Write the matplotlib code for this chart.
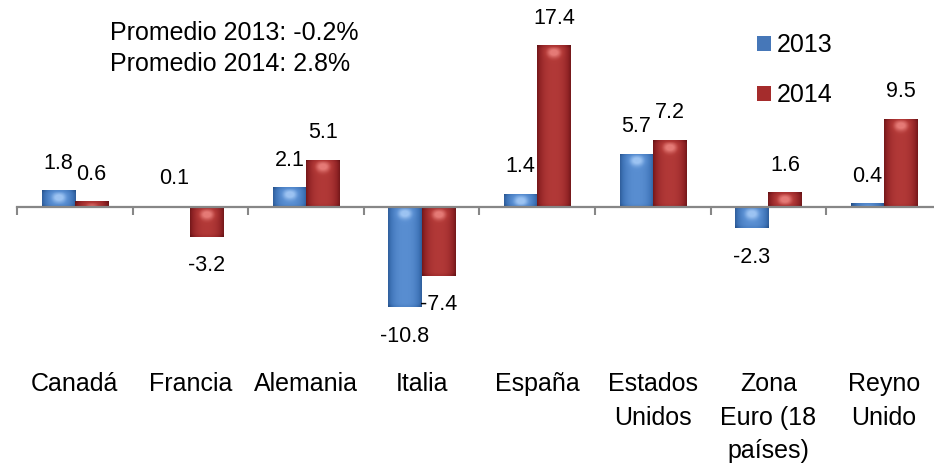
import matplotlib
matplotlib.use('Agg')
import matplotlib.pyplot as plt
import numpy as np
from matplotlib.patches import Patch
from matplotlib.colors import LinearSegmentedColormap

# ---- data ----
categories = ['Canadá', 'Francia', 'Alemania', 'Italia', 'España',
              'Estados\nUnidos', 'Zona\nEuro (18\npaíses)', 'Reyno\nUnido']
values_2013 = [1.8, 0.1, 2.1, -10.8, 1.4, 5.7, -2.3, 0.4]
values_2014 = [0.6, -3.2, 5.1, -7.4, 17.4, 7.2, 1.6, 9.5]
series_labels = ['2013', '2014']
promedio_lines = ['Promedio 2013: -0.2%', 'Promedio 2014: 2.8%']

plt.rcParams['font.family'] = ['Liberation Sans', 'DejaVu Sans']

W, H = 934, 466
fig = plt.figure(figsize=(W / 100, H / 100), dpi=100)
fig.patch.set_facecolor('white')

# layout in pixels
zero_px = 207
ppu = 9.3
ymin, ymax = -12, 20
top_px = zero_px - ymax * ppu
bot_px = zero_px - ymin * ppu
left_px = 17
cat_w = 115.6
ax = fig.add_axes([left_px / W, 1 - bot_px / H, 8 * cat_w / W, (bot_px - top_px) / H])

x = np.arange(len(categories))
bw = 0.288

blue_cmap = LinearSegmentedColormap.from_list('b', ['#244e86', '#3f74b8', '#5a8fd2', '#9cc3f2'])
red_cmap = LinearSegmentedColormap.from_list('r', ['#5e1012', '#922426', '#b33a38', '#e57a76'])

bars13 = ax.bar(x - bw / 2, values_2013, bw, color='#4677b8', zorder=2)
bars14 = ax.bar(x + bw / 2, values_2014, bw, color='#a52c2c', zorder=2)


def bevel(bars, cmap):
    for p in bars:
        x0 = p.get_x()
        w = p.get_width()
        y0 = p.get_y()
        h = p.get_height()
        ylo, yhi = min(y0, y0 + h), max(y0, y0 + h)
        hp = max(int(round((yhi - ylo) * ppu)), 2)
        u = np.linspace(0, 1, 40)[None, :]
        d = np.arange(hp)[:, None].astype(float)
        prof = 1 - (np.abs(u - 0.5) * 2) ** 2.5
        t = 0.15 + 0.5 * prof
        hl = np.exp(-((d - 7) / 5.0) ** 2) * np.exp(-((u - 0.5) / 0.22) ** 2)
        t = t + 0.45 * hl
        t = t - 0.12 * np.exp(-(d / 2.0) ** 2) - 0.12 * np.exp(-((hp - 1 - d) / 2.0) ** 2)
        t = np.clip(t, 0, 1)
        im = ax.imshow(t, extent=[x0, x0 + w, ylo, yhi], origin='upper',
                       aspect='auto', cmap=cmap, vmin=0, vmax=1, zorder=2.1,
                       interpolation='bilinear')
        im.set_clip_path(p)


bevel(bars13, blue_cmap)
bevel(bars14, red_cmap)

ax.set_xlim(-0.5, 7.5)
ax.set_ylim(ymin, ymax)

for s in ['top', 'right', 'left']:
    ax.spines[s].set_visible(False)
ax.spines['bottom'].set_position(('data', 0))
ax.spines['bottom'].set_color('#878787')
ax.spines['bottom'].set_linewidth(1.6)
ax.spines['bottom'].set_zorder(3)
ax.set_yticks([])
ax.set_xticks(x)
ax.set_xticklabels(categories, fontsize=18, linespacing=1.5, multialignment='center')
ax.tick_params(axis='x', which='major', length=0, pad=119)
ax.set_xticks(np.arange(-0.5, 8, 1), minor=True)
ax.tick_params(axis='x', which='minor', length=6, width=1.5, color='#878787', direction='out')
ax.patch.set_visible(False)

# data labels
for bars, vals in [(bars13, values_2013), (bars14, values_2014)]:
    for p, v in zip(bars, vals):
        xc = p.get_x() + p.get_width() / 2
        off = 19.5 if v >= 0 else -20.9
        ax.annotate(f'{v:.1f}', (xc, v), xytext=(0, off), textcoords='offset points',
                    ha='center', va='center', fontsize=15.5, color='black')

# legend
handles = [Patch(facecolor='#4677b8'), Patch(facecolor='#a52c2c')]
fig.legend(handles, series_labels, loc='upper left', bbox_to_anchor=(757 / W, 1 - 33 / H),
           frameon=False, fontsize=18, handlelength=0.55, handleheight=0.55,
           handletextpad=0.25, labelspacing=1.05, borderpad=0, borderaxespad=0)

# promedio text
fig.text(110 / W, 1 - 33 / H, promedio_lines[0], fontsize=18, va='center', ha='left')
fig.text(110 / W, 1 - 64 / H, promedio_lines[1], fontsize=18, va='center', ha='left')

fig.savefig('out.png', dpi=100)
